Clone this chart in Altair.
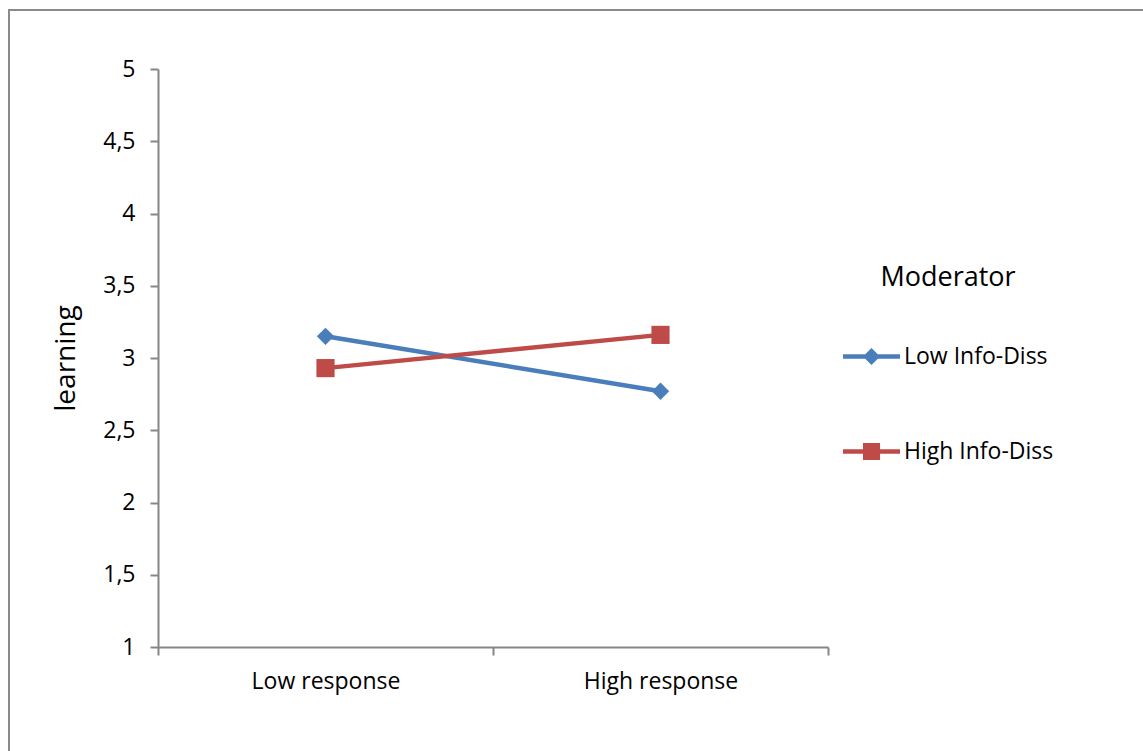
import altair as alt
import pandas as pd

# Response level on the x axis, one line per moderator group
categories = ["Low response", "High response"]
groups = ["Low Info-Diss", "High Info-Diss"]
low_info_diss = [3.15, 2.77]
high_info_diss = [2.93, 3.16]

colors = ["#4A7EBB", "#BE4B48"]
markers = ["diamond", "square"]
marker_sizes = [300, 330]
y_ticks = [1, 1.5, 2, 2.5, 3, 3.5, 4, 4.5, 5]

# Legend glyphs: a short line segment with the series marker in the middle
diamond_glyph = ("M-1,-0.08 L-0.22,-0.08 L0,-0.3 L0.22,-0.08 L1,-0.08 L1,0.08 "
                 "L0.22,0.08 L0,0.3 L-0.22,0.08 L-1,0.08 Z")
square_glyph = ("M-1,-0.08 L-0.3,-0.08 L-0.3,-0.3 L0.3,-0.3 L0.3,-0.08 L1,-0.08 "
                "L1,0.08 L0.3,0.08 L0.3,0.3 L-0.3,0.3 L-0.3,0.08 L-1,0.08 Z")

rows = []
for g, vals in zip(groups, [low_info_diss, high_info_diss]):
    for c, v in zip(categories, vals):
        rows.append({"response": c, "moderator": g, "learning": v})
df = pd.DataFrame(rows)

FONT = "Open Sans"
AXIS_GRAY = "#868686"
FRAME_GRAY = "#8A8A8A"

# Plot area and surrounding space
PLOT_W, PLOT_H = 670, 578
PAD = {"left": 158, "top": 69, "right": 315, "bottom": 104}
TOTAL_W = PAD["left"] + PLOT_W + PAD["right"]
TOTAL_H = PAD["top"] + PLOT_H + PAD["bottom"]

x_enc = alt.X(
    "response:N",
    sort=categories,
    scale=alt.Scale(paddingInner=0, paddingOuter=0),
    axis=alt.Axis(
        title=None, labelAngle=0, tickBand="extent", labelFontSize=23,
        labelPadding=15, tickSize=8,
    ),
)
y_enc = alt.Y(
    "learning:Q",
    scale=alt.Scale(domain=[1, 5], nice=False, zero=False),
    axis=alt.Axis(
        title="learning", values=y_ticks, grid=False, labelFontSize=23,
        labelPadding=15, tickSize=8, titleFontSize=28, titleFontWeight="normal",
        titlePadding=22,
        labelExpr="replace(format(datum.value, '~g'), '.', ',')",
    ),
)

base = alt.Chart(df)

series_layers = []
for g, col, shp, sz in zip(groups, colors, markers, marker_sizes):
    sub = base.transform_filter(alt.datum.moderator == g)
    series_layers.append(
        sub.mark_line(strokeWidth=4.5, color=col).encode(x=x_enc, y=y_enc)
    )
    series_layers.append(
        sub.mark_point(shape=shp, filled=True, size=sz, opacity=1, color=col)
        .encode(x=x_enc, y=y_enc)
    )

legend = alt.Legend(
    title="Moderator", orient="none", legendX=685, legendY=196,
    titleFont=FONT, titleFontSize=27, titleFontWeight="normal",
    titleAnchor="middle", titlePadding=36, titleColor="black",
    labelFont=FONT, labelFontSize=23, labelColor="black", labelOffset=4,
    symbolSize=3249, symbolStrokeWidth=0, rowPadding=54, padding=0,
)

# Legend-only layer: no rows survive the filter, the legend comes from the scale domains
legend_layer = base.transform_filter("false").mark_point(filled=True, opacity=1).encode(
    x=x_enc, y=y_enc,
    color=alt.Color("moderator:N", scale=alt.Scale(domain=groups, range=colors), legend=legend),
    shape=alt.Shape("moderator:N", scale=alt.Scale(domain=groups, range=[diamond_glyph, square_glyph]),
                    legend=legend),
)

# Outer chart frame: top and left edges, running to the edge of the canvas
frame_src = alt.Chart(pd.DataFrame({"k": [0]}))
frame_top = frame_src.mark_rule(color=FRAME_GRAY, strokeWidth=2).encode(
    x=alt.value(-149), x2=alt.value(TOTAL_W - PAD["left"]), y=alt.value(-59)
)
frame_left = frame_src.mark_rule(color=FRAME_GRAY, strokeWidth=2).encode(
    x=alt.value(-149), y=alt.value(-60), y2=alt.value(TOTAL_H - PAD["top"])
)

chart = alt.layer(frame_top, frame_left, *series_layers, legend_layer).properties(
    width=PLOT_W, height=PLOT_H,
    autosize=alt.AutoSizeParams(type="none"),
    padding=PAD,
    background="white",
).configure_view(stroke=None).configure_axis(
    labelFont=FONT, titleFont=FONT, labelColor="black", titleColor="black",
    domainColor=AXIS_GRAY, tickColor=AXIS_GRAY, domainWidth=2, tickWidth=2,
)

chart.save("out.html", embed_options={"renderer": "svg", "actions": False})
